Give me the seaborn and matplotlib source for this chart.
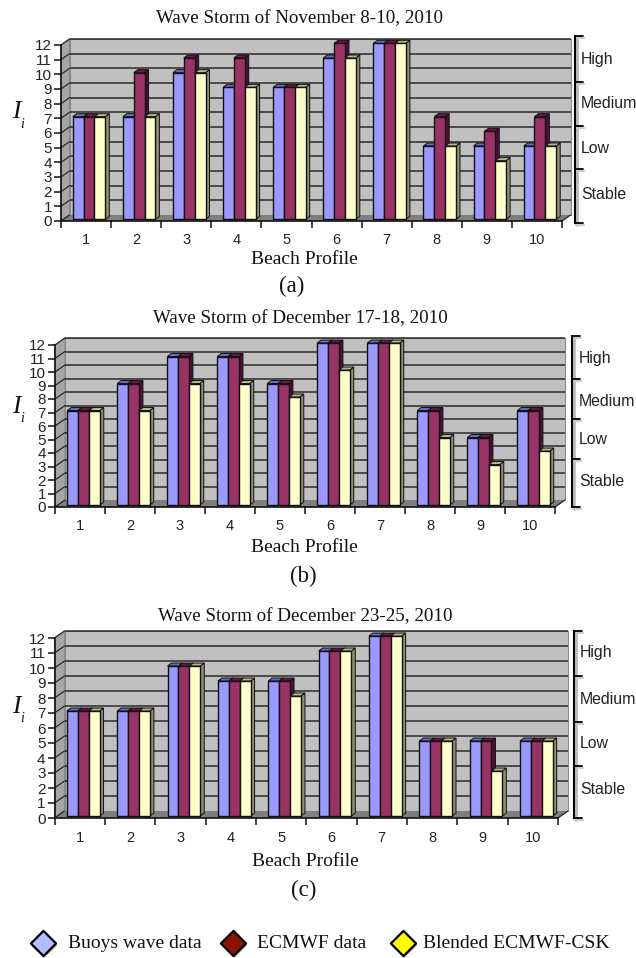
import matplotlib
matplotlib.use("Agg")
import matplotlib.pyplot as plt
import numpy as np
import pandas as pd
import seaborn as sns
from matplotlib.patches import Polygon
from matplotlib.transforms import Affine2D

W, H = 636, 958
SERIF = "Liberation Serif"

PROFILES = ["1", "2", "3", "4", "5", "6", "7", "8", "9", "10"]
SOURCES = ["Buoys wave data", "ECMWF data", "Blended ECMWF-CSK"]

BUOYS_A = [7, 7, 10, 9, 9, 11, 12, 5, 5, 5]
ECMWF_A = [7, 10, 11, 11, 9, 12, 12, 7, 6, 7]
BLEND_A = [7, 7, 10, 9, 9, 11, 12, 5, 4, 5]

BUOYS_B = [7, 9, 11, 11, 9, 12, 12, 7, 5, 7]
ECMWF_B = [7, 9, 11, 11, 9, 12, 12, 7, 5, 7]
BLEND_B = [7, 7, 9, 9, 8, 10, 12, 5, 3, 4]

BUOYS_C = [7, 7, 10, 9, 9, 11, 12, 5, 5, 5]
ECMWF_C = [7, 7, 10, 9, 9, 11, 12, 5, 5, 5]
BLEND_C = [7, 7, 10, 9, 8, 11, 12, 5, 3, 5]

CLASSES = ["High", "Medium", "Low", "Stable"]

FRONT = ["#9999FF", "#993366", "#FFFFCC"]
SIDE = ["#5C5C99", "#4F1035", "#8F8F70"]
TOP = ["#6C6CC0", "#6B1842", "#B8B88F"]

# layout in image pixels
PANELS = [
    dict(values=(BUOYS_A, ECMWF_A, BLEND_A), title="Wave Storm of November 8-10, 2010",
         tag="(a)", box=(61, 562, 221, 45), depth=(8.5, 6), title_at=(300, 18.5),
         xlabel_at=(304, 260), tag_at=(292, 286), ylabel_y=112,
         bracket_x=575, bracket=[36, 81.5, 126, 169, 223], class_y=[59, 103, 148, 194], class_x=581),
    dict(values=(BUOYS_B, ECMWF_B, BLEND_B), title="Wave Storm of December 17-18, 2010",
         tag="(b)", box=(55, 555, 507, 345), depth=(10, 7), title_at=(300, 318.5),
         xlabel_at=(304, 548), tag_at=(303, 576), ylabel_y=407,
         bracket_x=572, bracket=[336, 379, 419, 459, 507], class_y=[358, 401, 439, 481], class_x=579),
    dict(values=(BUOYS_C, ECMWF_C, BLEND_C), title="Wave Storm of December 23-25, 2010",
         tag="(c)", box=(54.5, 558, 818, 638), depth=(10, 7), title_at=(305, 616.5),
         xlabel_at=(305, 861), tag_at=(304, 890), ylabel_y=707,
         bracket_x=574, bracket=[631, 676, 722, 766, 818], class_y=[653, 700, 743, 789], class_x=580),
]

LEGEND_X = [43, 233, 403]
LEGEND_TEXT_X = [68, 257, 423]
LEGEND_COLORS = ["#B4BEFF", "#8B1400", "#FFFF00"]


def draw_box(ax, dx, dy):
    # back wall, side wall and floor, all in data units
    ax.add_patch(Polygon([(-0.5 + dx, dy), (9.5 + dx, dy), (9.5 + dx, 12 + dy), (-0.5 + dx, 12 + dy)],
                         fc="#C0C0C0", ec="#8A8A8A", lw=0.8, zorder=0, clip_on=False))
    ax.add_patch(Polygon([(-0.5, 0), (-0.5 + dx, dy), (-0.5 + dx, 12 + dy), (-0.5, 12)],
                         fc="#A6A6A6", ec="#8A8A8A", lw=0.8, zorder=0.1, clip_on=False))
    ax.add_patch(Polygon([(-0.5, 0), (9.5, 0), (9.5 + dx, dy), (-0.5 + dx, dy)],
                         fc="#7F7F7F", ec="none", zorder=0.3, clip_on=False))
    for level in range(1, 13):
        ax.plot([-0.5 + dx, 9.5 + dx], [level + dy] * 2, color="#2A2A2A", lw=1.1, zorder=0.2,
                clip_on=False, solid_capstyle="butt")
        ax.plot([-0.5, -0.5 + dx], [level, level + dy], color="#2A2A2A", lw=0.9, zorder=0.2,
                clip_on=False)
    ax.plot([9.5, 9.5 + dx], [0, dy], color="#222222", lw=0.9, zorder=0.4, clip_on=False)
    ax.plot([-0.5, -0.5 + dx], [0, dy], color="#222222", lw=0.9, zorder=0.4, clip_on=False)


def extrude_bars(ax, ox, oy, sx, sy):
    n = len(PROFILES)
    shift = Affine2D().translate(ox, oy) + ax.transData
    for i, bar in enumerate(ax.patches[:3 * n]):
        level = i // n
        z = 3 + level
        x, w, h = bar.get_x(), bar.get_width(), bar.get_height()
        bar.set_transform(shift)
        bar.set_clip_on(False)
        bar.set_zorder(z)
        side = Polygon([(x + w, 0), (x + w + sx, sy), (x + w + sx, h + sy), (x + w, h)],
                       fc=SIDE[level], ec="#111111", lw=0.7, zorder=z - 0.2, transform=shift, clip_on=False)
        top = Polygon([(x, h), (x + sx, h + sy), (x + w + sx, h + sy), (x + w, h)],
                      fc=TOP[level], ec="#111111", lw=0.7, zorder=z - 0.1, transform=shift, clip_on=False)
        ax.add_patch(side)
        ax.add_patch(top)


def draw_panel(fig, panel):
    x0, x1, y0, y12 = panel["box"]
    ax = fig.add_axes([x0 / W, 1 - y0 / H, (x1 - x0) / W, (y0 - y12) / H])
    ax.patch.set_alpha(0)

    table = pd.DataFrame({
        "profile": PROFILES * 3,
        "source": np.repeat(SOURCES, len(PROFILES)),
        "value": np.concatenate(panel["values"]),
    })
    sns.barplot(data=table, x="profile", y="value", hue="source", order=PROFILES, hue_order=SOURCES,
                palette=FRONT, saturation=1, width=0.65, gap=0, edgecolor="#111111", linewidth=1.0,
                legend=False, ax=ax)
    ax.set_xlim(-0.5, 9.5)
    ax.set_ylim(0, 12)
    ax.set_xlabel("")
    ax.set_ylabel("")

    x_unit = (x1 - x0) / 10
    y_unit = (y0 - y12) / 12
    dx, dy = panel["depth"][0] / x_unit, panel["depth"][1] / y_unit
    draw_box(ax, dx, dy)
    extrude_bars(ax, 0.35 * dx, 0.28 * dy, 4 / x_unit, 3 / y_unit)

    for name in ("top", "right"):
        ax.spines[name].set_visible(False)
    for name in ("left", "bottom"):
        ax.spines[name].set_linewidth(1.2)
        ax.spines[name].set_color("#111111")
    ax.set_yticks(range(13))
    ax.tick_params(axis="y", left=True, length=5, width=1.1, color="#111111", pad=1.5, labelsize=11,
                   labelcolor="#222222")
    ax.set_xticks(np.arange(-0.5, 10, 1), minor=True)
    ax.tick_params(axis="x", which="minor", bottom=True, length=5, width=1.1, color="#111111", direction="out")
    ax.tick_params(axis="x", which="major", length=0, pad=9, labelsize=10.5, labelcolor="#222222")
    return ax


def draw_notes(over, panel):
    over.text(*panel["title_at"], panel["title"], family=SERIF, fontsize=13.7, ha="center", va="center",
              color="#111111")
    over.text(*panel["xlabel_at"], "Beach Profile", family=SERIF, fontsize=14, ha="center", va="center",
              color="#111111")
    over.text(*panel["tag_at"], panel["tag"], family=SERIF, fontsize=16.5, ha="center", va="center",
              color="#111111")
    y = panel["ylabel_y"]
    over.text(16, y, "I", family=SERIF, style="italic", fontsize=18.5, ha="center", va="center", color="#111111")
    over.text(22.5, y + 12, "i", family=SERIF, style="italic", fontsize=10, ha="center", va="center", color="#111111")

    bx = panel["bracket_x"]
    ys = panel["bracket"]
    # soft shadow first, then the bracket
    over.plot([bx + 1.5, bx + 1.5], [ys[0] + 2, ys[-1] + 2], color="#BBBBBB", lw=2)
    for tick_y in ys:
        over.plot([bx + 1, bx + 9], [tick_y + 2, tick_y + 2], color="#CCCCCC", lw=1.5)
    over.plot([bx, bx], [ys[0], ys[-1]], color="black", lw=1.5, solid_capstyle="projecting")
    for tick_y in ys:
        over.plot([bx, bx + 8], [tick_y, tick_y], color="black", lw=1.3)
    for name, text_y in zip(CLASSES, panel["class_y"]):
        over.text(panel["class_x"], text_y, name, fontsize=11.4, ha="left", va="center", color="#222222")


def main():
    sns.set_theme(style="white")
    plt.rcParams["font.family"] = ["Liberation Sans", "DejaVu Sans"]

    fig = plt.figure(figsize=(W / 100, H / 100), dpi=100, facecolor="white")
    for panel in PANELS:
        draw_panel(fig, panel)

    over = fig.add_axes([0, 0, 1, 1], zorder=10)
    over.set_xlim(0, W)
    over.set_ylim(H, 0)
    over.axis("off")
    for panel in PANELS:
        draw_notes(over, panel)

    for mx, tx, color, name in zip(LEGEND_X, LEGEND_TEXT_X, LEGEND_COLORS, SOURCES):
        over.scatter([mx + 1], [945], marker="D", s=165, color="#BBBBBB", linewidths=0)
        over.scatter([mx], [943], marker="D", s=165, color=color, edgecolors="black", linewidths=1.6)
        over.text(tx, 944, name, family=SERIF, fontsize=14, ha="left", va="center", color="#111111")

    fig.savefig("out.png", dpi=100)
    plt.close(fig)


if __name__ == "__main__":
    main()
